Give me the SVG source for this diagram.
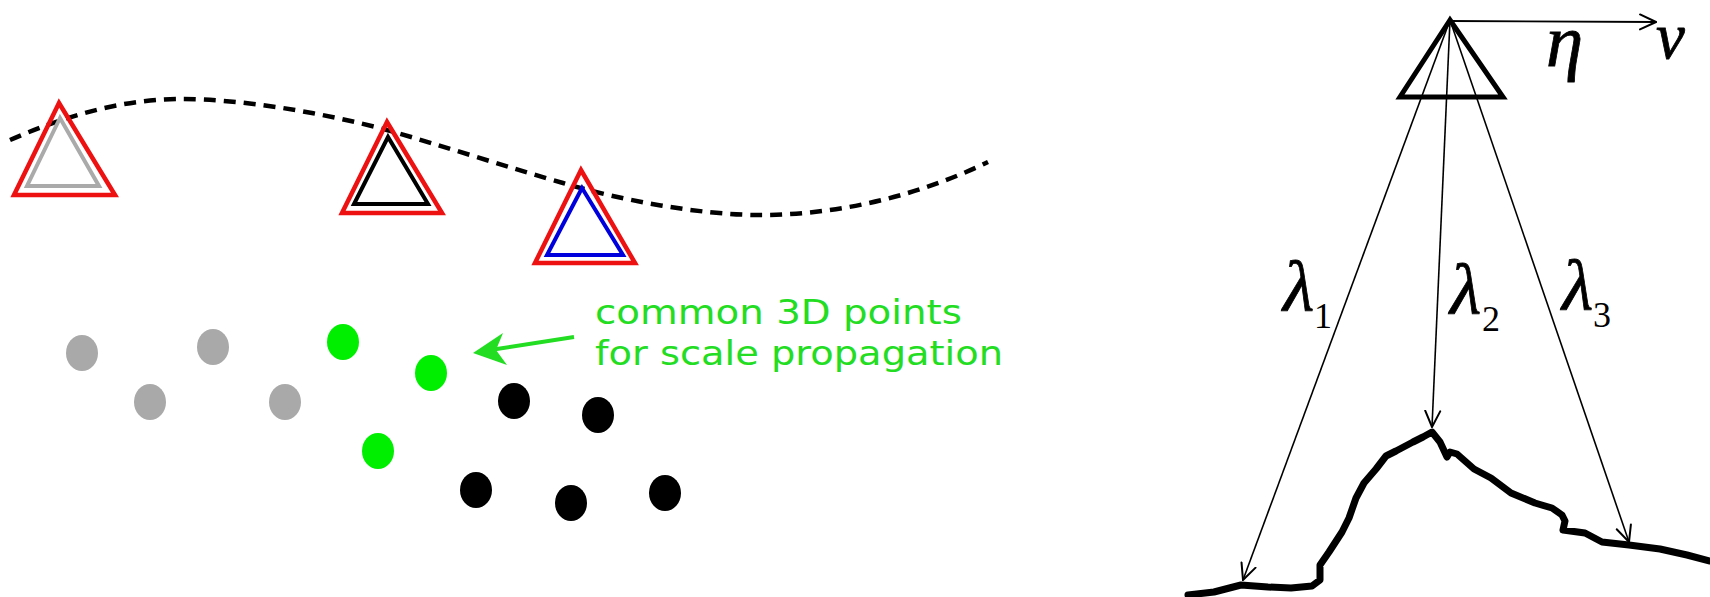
<svg xmlns="http://www.w3.org/2000/svg" width="1710" height="597" viewBox="0 0 1710 597">
  <style>
    .tri-red { fill: none; stroke: #ee1111; stroke-width: 4.5; stroke-linejoin: miter; }
    .tri-in { fill: none; stroke-width: 4; stroke-linejoin: miter; }
    .dot-gray { fill: #a9a9a9; }
    .dot-green { fill: #00ee00; }
    .dot-black { fill: #000000; }
    .label-green { font-family: "DejaVu Sans", sans-serif; font-size: 34px; fill: #22dd22; }
    .math { font-family: "Liberation Serif", serif; font-style: italic; fill: #000; stroke: #000; stroke-width: 0.8; }
    .sub { font-family: "Liberation Serif", serif; font-size: 36px; fill: #000; }
    .ray { stroke: #000; stroke-width: 1.6; fill: none; }
    .chev { fill: none; stroke: #000; stroke-width: 2; stroke-linecap: round; stroke-linejoin: miter; }
  </style>
  <defs>
    <marker id="openHead" viewBox="0 0 18 18" refX="17" refY="9" markerWidth="18" markerHeight="18" markerUnits="userSpaceOnUse" orient="auto">
      <path d="M1,1.5 L17,9 L1,16.5" class="chev"/>
    </marker>
  </defs>

  <rect width="1710" height="597" fill="#ffffff"/>

  <!-- camera trajectory -->
  <g id="trajectory">
    <path d="M10,140 C60,118 120,99 180,99 C240,99 320,112 387,130 C440,145 510,168 563,183 C620,200 700,215 760,215 C840,215 920,195 988,162"
          fill="none" stroke="#000" stroke-width="4.5" stroke-dasharray="12 8"/>
  </g>

  <!-- cameras along the trajectory -->
  <g id="camera-1">
    <polygon class="tri-red" points="59,103 14,195 115,195"/>
    <polygon class="tri-in" stroke="#aaaaaa" points="60,118 27,186 99,186"/>
  </g>
  <g id="camera-2">
    <polygon class="tri-red" points="387,122 342,213 442,213"/>
    <polygon class="tri-in" stroke="#000000" points="388,137 354,204 428,204"/>
  </g>
  <g id="camera-3">
    <polygon class="tri-red" points="581,170 535,263 635,263"/>
    <polygon class="tri-in" stroke="#0000dd" points="582,188 547,255 623,255"/>
  </g>

  <!-- 3D points -->
  <g id="points-gray">
    <ellipse class="dot-gray" cx="82" cy="353" rx="16" ry="18"/>
    <ellipse class="dot-gray" cx="213" cy="347" rx="16" ry="18"/>
    <ellipse class="dot-gray" cx="150" cy="402" rx="16" ry="18"/>
    <ellipse class="dot-gray" cx="285" cy="402" rx="16" ry="18"/>
  </g>
  <g id="points-green">
    <ellipse class="dot-green" cx="343" cy="342" rx="16" ry="18"/>
    <ellipse class="dot-green" cx="431" cy="373" rx="16" ry="18"/>
    <ellipse class="dot-green" cx="378" cy="451" rx="16" ry="18"/>
  </g>
  <g id="points-black">
    <ellipse class="dot-black" cx="514" cy="401" rx="16" ry="18"/>
    <ellipse class="dot-black" cx="598" cy="415" rx="16" ry="18"/>
    <ellipse class="dot-black" cx="476" cy="490" rx="16" ry="18"/>
    <ellipse class="dot-black" cx="571" cy="503" rx="16" ry="18"/>
    <ellipse class="dot-black" cx="665" cy="493" rx="16" ry="18"/>
  </g>

  <g id="label-common">
    <text class="label-green" x="595" y="324" textLength="367" lengthAdjust="spacingAndGlyphs">common 3D points</text>
    <text class="label-green" x="595" y="365" textLength="408" lengthAdjust="spacingAndGlyphs">for scale propagation</text>
  </g>

  <!-- connectors -->
  <g id="connectors">
    <line x1="574" y1="337" x2="490" y2="350" stroke="#22dd22" stroke-width="4"/>
    <polygon points="473,353 503,333 496,350 507,365" fill="#22dd22"/>

    <line x1="1450" y1="21" x2="1656" y2="22" stroke="#000" stroke-width="1.8" marker-end="url(#openHead)"/>
    <line class="ray" x1="1450" y1="20" x2="1243" y2="580" marker-end="url(#openHead)"/>
    <line class="ray" x1="1450" y1="20" x2="1432" y2="427" marker-end="url(#openHead)"/>
    <line class="ray" x1="1450" y1="20" x2="1629" y2="542" marker-end="url(#openHead)"/>
  </g>

  <!-- viewing camera -->
  <g id="camera-view">
    <polygon points="1450,20 1400,97 1503,97" fill="none" stroke="#000" stroke-width="5" stroke-linejoin="miter"/>
  </g>

  <!-- terrain surface -->
  <g id="terrain">
    <path d="M1188,595 L1214,592 L1241,585 L1268,587 L1291,588 L1312,586 L1320,580 L1320,565 L1329,552 L1342,532 L1349,518 L1356,498 L1364,483 L1376,469 L1386,456 L1396,451 L1413,442 L1423,437 L1432,432 L1440,442 L1447,457 L1450,452 L1457,454 L1474,469 L1491,478 L1511,493 L1535,503 L1552,508 L1562,515 L1565,521 L1563,530 L1585,533 L1602,542 L1629,545 L1660,549 L1687,555 L1710,561"
          fill="none" stroke="#000" stroke-width="7" stroke-linejoin="round" stroke-linecap="round"/>
  </g>

  <!-- symbols -->
  <g id="symbols">
    <text class="math" x="1546" y="66" font-size="75">η</text>
    <text class="math" x="1656" y="58" font-size="65">ν</text>
    <text class="math" x="1283" y="311" font-size="72">λ</text>
    <text class="sub" x="1314" y="328">1</text>
    <text class="math" x="1450" y="314" font-size="72">λ</text>
    <text class="sub" x="1482" y="331">2</text>
    <text class="math" x="1562" y="310" font-size="72">λ</text>
    <text class="sub" x="1593" y="327">3</text>
  </g>
</svg>
